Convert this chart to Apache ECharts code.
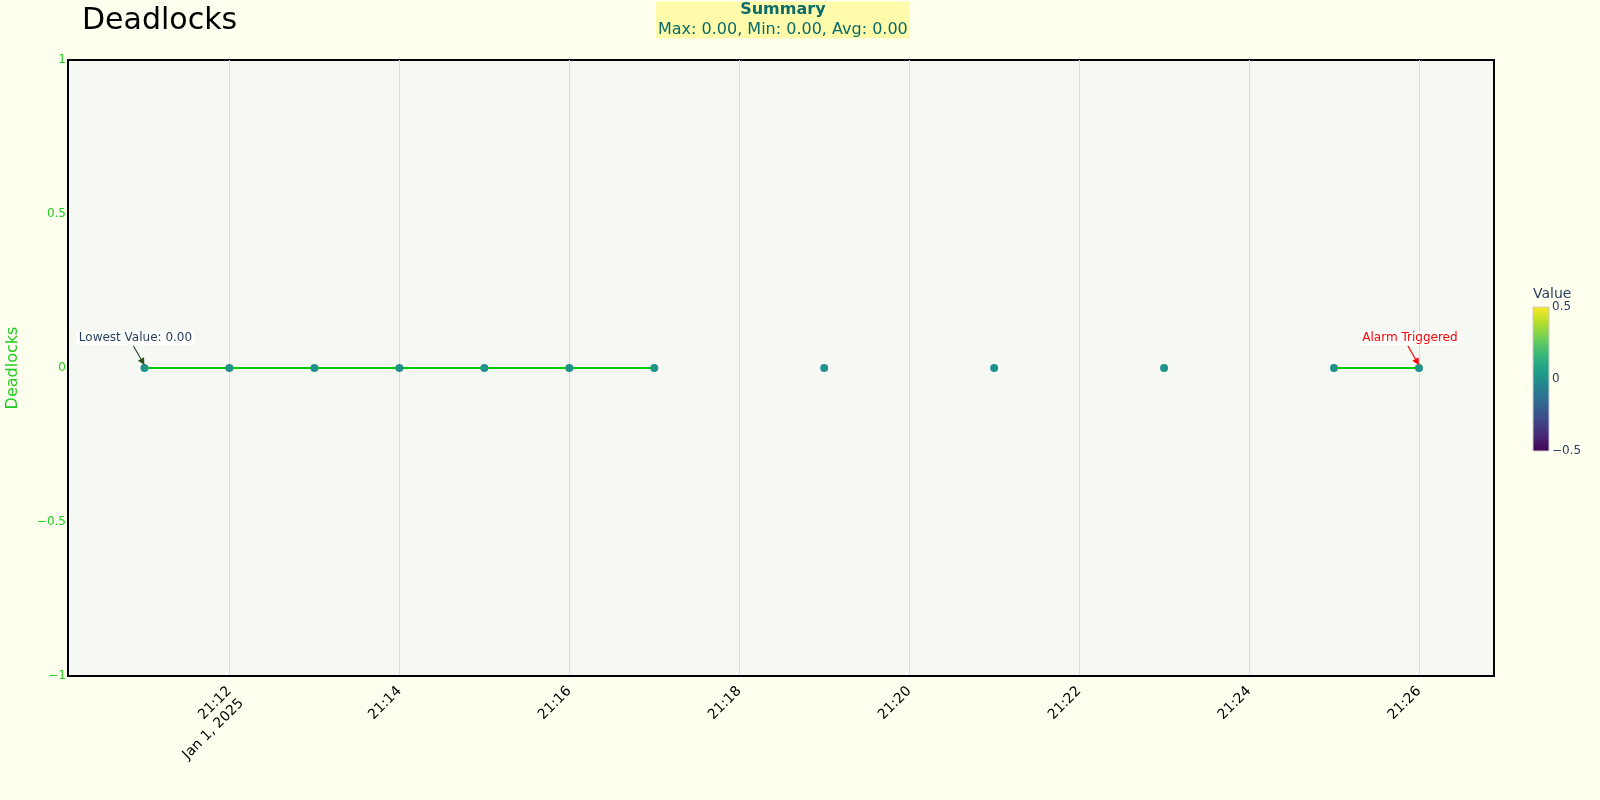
<!DOCTYPE html>
<html>
<head>
<meta charset="utf-8">
<script src="https://cdn.jsdelivr.net/npm/echarts@6/dist/echarts.min.js"></script>
<style>
html,body{margin:0;padding:0;background:#fffff0;}
#c{width:1600px;height:800px;}
</style>
</head>
<body>
<div id="c"></div>
<script>
// ---- data ----
const times = ['21:11','21:12','21:13','21:14','21:15','21:16','21:17','21:18','21:19','21:20','21:21','21:22','21:23','21:24','21:25','21:26'];
const values = [0,0,0,0,0,0,0,null,0,null,0,null,0,null,0,0];
const tickTimes = ['21:12','21:14','21:16','21:18','21:20','21:22','21:24','21:26'];
const yTicks = [-1,-0.5,0,0.5,1];
const colorbarTicks = ['0.5','0','\u22120.5'];
const dateLabel = 'Jan 1, 2025';
const axisRange = ['21:10:06','21:26:53'];

function ts(hm){
  const p = hm.split(':').map(Number);
  return new Date(2025,0,1,p[0],p[1],p[2]||0).getTime();
}
const seriesData = times.map((t,i)=>[ts(t), values[i]]);
const valid = values.filter(v=>v!==null);
const vMax = Math.max(...valid), vMin = Math.min(...valid);
const vAvg = valid.reduce((a,b)=>a+b,0)/valid.length;
const minIdx = values.indexOf(vMin);
const FONT = 'DejaVu Sans';
const fmtMinus = v => String(v).replace('-', '\u2212');

const chart = echarts.init(document.getElementById('c'));
const viridis = ['#440154','#482878','#3e4989','#31688e','#26828e','#1f9e89','#35b779','#6ece58','#b5de2b','#fde725'];

chart.setOption({
  backgroundColor:'#fffff0',
  animation:false,
  textStyle:{fontFamily:FONT},
  title:[
    {text:'Deadlocks', left:77, top:1, textStyle:{fontFamily:FONT, fontSize:30, fontWeight:'normal', color:'#000'}},
    {text:'{b|Summary}\n{n|Max: '+vMax.toFixed(2)+', Min: '+vMin.toFixed(2)+', Avg: '+vAvg.toFixed(2)+'}',
     left:656, top:0, padding:[0,2,1,2], backgroundColor:'#fffbaa',
     textStyle:{fontWeight:'normal', rich:{
       b:{fontFamily:FONT, fontSize:16, fontWeight:'bold', color:'#0a6b6b', lineHeight:19, align:'center'},
       n:{fontFamily:FONT, fontSize:16, fontWeight:'normal', color:'#0a6b6b', lineHeight:21, align:'center'}
     }}}
  ],
  grid:{left:68, right:106, top:60, bottom:124, outerBoundsMode:'none', containLabel:false,
        show:true, backgroundColor:'#f6f8f3', borderColor:'#000', borderWidth:2},
  xAxis:{
    type:'value', min:ts(axisRange[0]), max:ts(axisRange[1]),
    axisLine:{show:true, onZero:false, lineStyle:{color:'#000', width:2}},
    axisTick:{show:false, customValues:tickTimes.map(ts)},
    axisLabel:{customValues:tickTimes.map(ts), rotate:45, fontSize:14, color:'#000', fontFamily:FONT, margin:13, lineHeight:17,
      formatter:function(v){
        const d=new Date(v);
        const s=String(d.getHours()).padStart(2,'0')+':'+String(d.getMinutes()).padStart(2,'0');
        return s===tickTimes[0] ? ' \n' + s + '\n' + dateLabel : s;
      }},
    splitLine:{show:true, lineStyle:{color:'#dcdcdc', width:1}}
  },
  yAxis:{
    type:'value', min:yTicks[0], max:yTicks[yTicks.length-1], interval:0.5,
    name:'Deadlocks', nameLocation:'middle', nameGap:47,
    nameTextStyle:{color:'#22cc22', fontSize:16, fontFamily:FONT},
    axisLine:{show:true, onZero:false, lineStyle:{color:'#000', width:2}},
    axisTick:{show:false},
    axisLabel:{color:'#22cc22', fontSize:12, fontFamily:FONT, margin:2, formatter:v=>fmtMinus(v)},
    splitLine:{show:true, lineStyle:{color:yTicks.map(v=>v===0?'#ffffff':'#e0e0e0'), width:yTicks.map(v=>v===0?2:1)}}
  },
  series:[{
    type:'line', data:seriesData, connectNulls:false,
    showSymbol:true, symbol:'circle', symbolSize:8,
    itemStyle:{color:'#21918c'},
    lineStyle:{color:'#00cc00', width:2},
    z:3
  }]
});

function arrow(x1,y1,x2,y2,color){
  const ang=Math.atan2(y2-y1,x2-x1), L=7, W=3.5;
  const bx=x2-L*Math.cos(ang), by=y2-L*Math.sin(ang);
  return [
    {type:'line', shape:{x1:x1,y1:y1,x2:bx,y2:by}, style:{stroke:color, lineWidth:1.2}, z:10},
    {type:'polygon', shape:{points:[[x2,y2],[bx+W*Math.sin(ang),by-W*Math.cos(ang)],[bx-W*Math.sin(ang),by+W*Math.cos(ang)]]}, style:{fill:color}, z:10}
  ];
}
function annot(pt, text, color, arrowColor){
  const p = chart.convertToPixel({gridIndex:0}, pt);
  const tx = p[0]-9, ty = p[1]-30;
  return [
    {type:'text', x:tx, y:ty, z:11, style:{text:text, fill:color, fontSize:12, fontFamily:FONT, align:'center', verticalAlign:'middle',
      backgroundColor:'rgba(255,255,255,0.85)', padding:[1,2]}},
    ...arrow(tx-2, ty+8, p[0], p[1]-3, arrowColor)
  ];
}

const els = [];
els.push(...annot(seriesData[minIdx], 'Lowest Value: '+vMin.toFixed(2), '#2a3f5f', '#2f4f1f'));
els.push(...annot(seriesData[seriesData.length-1], 'Alarm Triggered', '#ff0000', '#ff0000'));

// colorbar
const cbX=1533, cbY=307, cbW=16, cbH=144;
els.push({type:'rect', shape:{x:cbX,y:cbY,width:cbW,height:cbH}, z:5,
  style:{fill:new echarts.graphic.LinearGradient(0,1,0,0, viridis.map((c,i)=>({offset:i/(viridis.length-1), color:c}))), stroke:'#cccccc', lineWidth:1}});
els.push({type:'text', x:cbX, y:cbY-13, style:{text:'Value', fill:'#2a3f5f', fontSize:14, fontFamily:FONT, verticalAlign:'middle'}});
colorbarTicks.forEach((t,i)=>{
  els.push({type:'text', x:cbX+cbW+3, y:cbY+cbH*i/(colorbarTicks.length-1), style:{text:t, fill:'#2a3f5f', fontSize:12, fontFamily:FONT, verticalAlign:'middle'}});
});
chart.setOption({graphic:{elements:els}});
</script>
</body>
</html>
